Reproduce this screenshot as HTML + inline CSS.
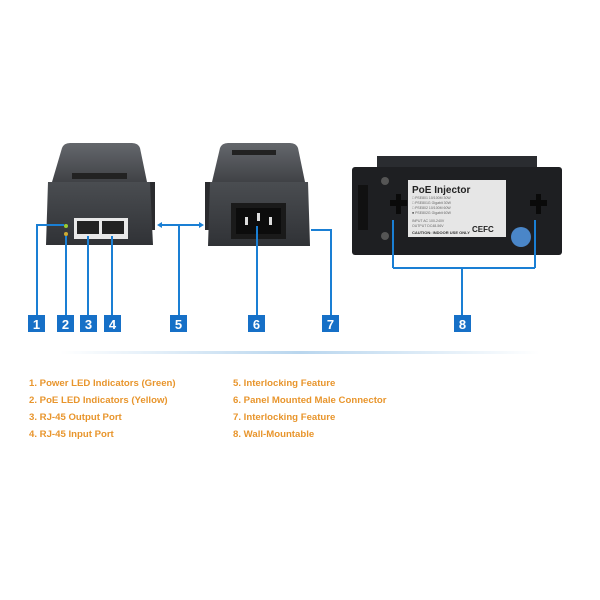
<!DOCTYPE html>
<html><head><style>
body{margin:0;background:#fff;width:600px;height:600px;overflow:hidden;font-family:"Liberation Sans",sans-serif}
.t{position:absolute;color:#e8952c;font-weight:bold;font-size:9.6px;white-space:nowrap}
</style></head><body>
<svg width="600" height="600" style="position:absolute;left:0;top:0">
<defs>
<linearGradient id="g1" x1="0" y1="0" x2="0" y2="1"><stop offset="0" stop-color="#64676c"/><stop offset="1" stop-color="#404246"/></linearGradient>
<linearGradient id="g2" x1="0" y1="0" x2="0" y2="1"><stop offset="0" stop-color="#4a4d51"/><stop offset="1" stop-color="#303236"/></linearGradient>
<linearGradient id="dv" x1="0" y1="0" x2="1" y2="0"><stop offset="0" stop-color="#fff"/><stop offset="0.5" stop-color="#b9d6ee"/><stop offset="1" stop-color="#fff"/></linearGradient>
</defs>
<path d="M62,148 Q64,143 70,143 L132,143 Q138,143 140,148 L147,182 L52,182 Z" fill="url(#g1)"/>
<rect x="72" y="173" width="55" height="6" fill="#222"/>
<rect x="147" y="182" width="8" height="48" fill="#2a2b2e"/>
<path d="M48,182 L150,182 L153,245 L46,245 Z" fill="url(#g2)"/>
<rect x="74" y="218" width="54" height="21" fill="#e8e8e8"/>
<rect x="77" y="221" width="22" height="13" fill="#222"/>
<rect x="102" y="221" width="22" height="13" fill="#222"/>
<circle cx="66" cy="226" r="2" fill="#9c3"/><circle cx="66" cy="234" r="2" fill="#ca3"/>
<path d="M220,148 Q222,143 228,143 L290,143 Q296,143 298,148 L305,182 L212,182 Z" fill="url(#g1)"/>
<rect x="232" y="150" width="44" height="5" fill="#222"/>
<rect x="205" y="182" width="8" height="48" fill="#2a2b2e"/>
<path d="M210,182 L308,182 L310,246 L208,246 Z" fill="url(#g2)"/>
<rect x="231" y="203" width="55" height="36" fill="#1a1a1a"/>
<rect x="236" y="208" width="45" height="26" fill="#0c0c0c"/>
<rect x="245" y="217" width="3" height="8" fill="#ddd"/><rect x="257" y="213" width="3" height="8" fill="#ddd"/><rect x="269" y="217" width="3" height="8" fill="#ddd"/>
<rect x="377" y="156" width="160" height="12" fill="#2a2c30"/>
<rect x="352" y="167" width="210" height="88" rx="3" fill="#1e1f22"/>
<rect x="358" y="185" width="10" height="45" fill="#111"/>
<circle cx="385" cy="181" r="4" fill="#555"/><circle cx="385" cy="236" r="4" fill="#555"/>
<path d="M390,200 h6 v-6 h5 v6 h6 v6 h-6 v8 h-5 v-8 h-6z" fill="#0a0a0a"/>
<path d="M530,200 h6 v-6 h5 v6 h6 v6 h-6 v8 h-5 v-8 h-6z" fill="#0a0a0a"/>
<rect x="408" y="180" width="98" height="57" fill="#e6e6e6"/>
<text x="412" y="193" font-size="10" font-weight="bold" font-family="Liberation Sans" fill="#222">PoE Injector</text>
<g fill="#666" font-size="3.5" font-family="Liberation Sans"><text x="412" y="199">□ PSE801     10/100M 30W</text><text x="412" y="204">□ PSE801G    Gigabit 30W</text><text x="412" y="209">□ PSE802     10/100M 60W</text><text x="412" y="214">■ PSE802G    Gigabit 60W</text><text x="412" y="222">INPUT AC 100-240V</text><text x="412" y="227">OUTPUT DC48-56V</text></g>
<text x="412" y="234" font-size="4" font-weight="bold" font-family="Liberation Sans" fill="#333">CAUTION: INDOOR USE ONLY</text>
<text x="472" y="232" font-size="8" font-weight="bold" font-family="Liberation Sans" fill="#222">CEFC</text>
<circle cx="521" cy="237" r="10" fill="#4a86c8"/>
<g stroke="#1a7fd4" stroke-width="2" fill="none">
<path d="M37,316 V225 H64"/><path d="M66,316 V236"/><path d="M88,316 V236"/><path d="M112,316 V236"/>
<path d="M179,316 V225"/><path d="M160,225 H201"/>
<path d="M257,316 V226"/>
<path d="M331,316 V230 H311"/>
<path d="M462,316 V268 M393,268 H535 M393,268 V220 M535,268 V220"/>
</g>
<path d="M157,225 l5,-3 v6z M204,225 l-5,-3 v6z" fill="#1a7fd4"/>
<g fill="#1670c7"><rect x="28" y="315" width="17" height="17"/><rect x="57" y="315" width="17" height="17"/><rect x="80" y="315" width="17" height="17"/><rect x="104" y="315" width="17" height="17"/><rect x="170" y="315" width="17" height="17"/><rect x="248" y="315" width="17" height="17"/><rect x="322" y="315" width="17" height="17"/><rect x="454" y="315" width="17" height="17"/></g>
<g fill="#fff" font-size="13" font-weight="bold" font-family="Liberation Sans" text-anchor="middle"><text x="36.5" y="329">1</text><text x="65.5" y="329">2</text><text x="88.5" y="329">3</text><text x="112.5" y="329">4</text><text x="178.5" y="329">5</text><text x="256.5" y="329">6</text><text x="330.5" y="329">7</text><text x="462.5" y="329">8</text></g>
<rect x="60" y="351" width="480" height="3" fill="url(#dv)"/>
</svg>
<div class="t" style="left:29px;top:378px">1. Power LED Indicators (Green)</div>
<div class="t" style="left:29px;top:395px">2. PoE LED Indicators (Yellow)</div>
<div class="t" style="left:29px;top:412px">3. RJ-45 Output Port</div>
<div class="t" style="left:29px;top:429px">4. RJ-45 Input Port</div>
<div class="t" style="left:233px;top:378px">5. Interlocking Feature</div>
<div class="t" style="left:233px;top:395px">6. Panel Mounted Male Connector</div>
<div class="t" style="left:233px;top:412px">7. Interlocking Feature</div>
<div class="t" style="left:233px;top:429px">8. Wall-Mountable</div>
</body></html>
